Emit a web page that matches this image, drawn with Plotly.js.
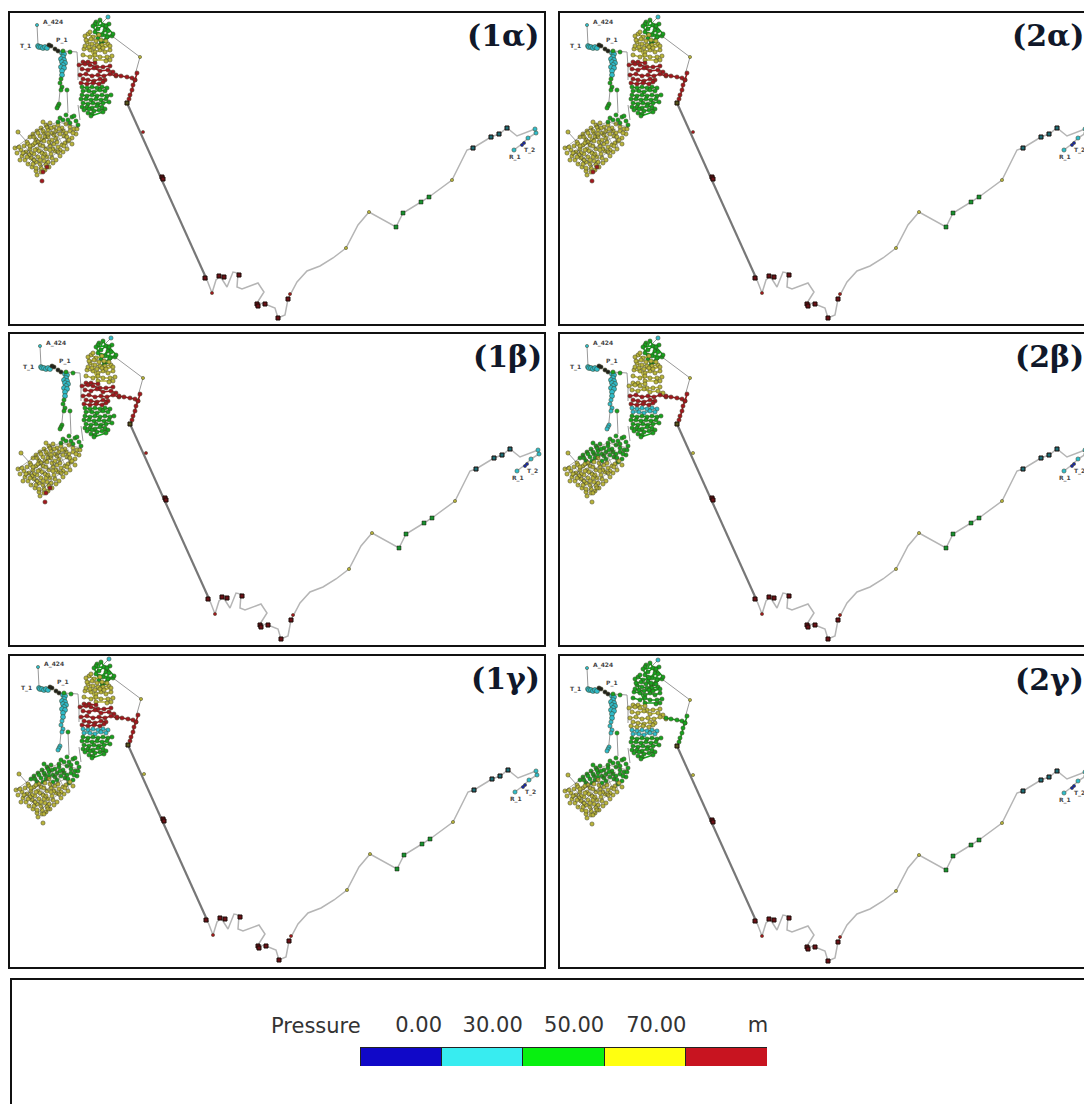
<!DOCTYPE html>
<html>
<head>
<meta charset="utf-8">
<script src="https://cdn.plot.ly/plotly-3.0.1.min.js"></script>
<style>
html,body{margin:0;padding:0;background:#fff;overflow:hidden;width:1084px;height:1104px}
#chart{width:1110px;height:1130px}
.scatterlayer{filter:blur(.75px)}
</style>
</head>
<body>
<div id="chart"></div>
<script>
// Panel names, in page order
const panelNames = ['(1α)','(2α)','(1β)','(2β)','(1γ)','(2γ)'];

const mainPipeX = [127,207];
const mainPipeY = [103,280];
const routePipeX = [207,212,216,220,227,233,238,237,242,258,264,257,265,275,278,285,288,297,307,320,333,346,358,369,396,403,421,429,452,458,467,473,491,499,507,517,535,536,528,523,514];
const routePipeY = [280,293,280,276,287,272,273,287,289,283,292,303,304,308,318,315,299,282,271,266,258,248,225,212,227,213,202,197,180,168,150,148,137,134,128,136,129,133,138,143,150];
const feederPipeX = [37,38,null,63,77,78,78,null,62,58,null,67,68,null,78,80,null,112,140,135,null,103,108,null,18,27,null,78,72];
const feederPipeY = [25,45,null,51,52,67,80,null,72,110,null,90,113,null,105,120,null,36,57,75,null,22,17,null,132,142,null,127,134];
const swMeshX = [15,27,36,47,58,70,78,null,22,34,45,56,66,null,28,40,52,64,null,37,48,60,null,25,33,43,null,36,47,null,33,39,48,null,41,50,58,null,46,57,null,54,62,null,62,68,null,24,36,null,44,52];
const swMeshY = [148,139,131,126,122,125,127,null,156,146,138,133,129,null,164,152,143,137,null,171,160,150,null,146,157,166,null,137,149,null,134,146,158,null,128,143,155,null,123,139,null,127,144,null,129,147,null,150,165,null,172,160];

// Zones of junctions (network coordinates, null separates rows)
const sourceX = [38,39,41,43,45,47];
const sourceY = [46,47,47,48,47,48];
const reservoirX = [37];
const reservoirY = [25];
const valveX = [49,51,55,58];
const valveY = [45,46,49,51];
const stemX = [62,64,63,61,64,62,65,63,61,64,62,62];
const stemY = [53,54,57,59,60,62,63,65,67,68,71,75];
const stemLowX = [61,60,62,61,59,58,57];
const stemLowY = [79,83,87,90,104,106,108];
const branchX = [67,63,70];
const branchY = [90,51,52];
const topX = [96,95,98,103,105,102,107,112,95,100,108,104,98,109,93,101,113,106];
const topY = [22,24,29,25,30,35,37,36,32,20,31,41,38,24,26,44,34,26];
const topCapX = [108];
const topCapY = [17];
const upperX = [88,93,99,null,87,92,97,102,108,null,84,90,95,100,105,110,null,83,90,95,100,107,112,null,86,91,96,101,106,null,85,89,94,99,110,103,null,90,85,95,110,106];
const upperY = [34,37,35,null,42,44,45,45,44,null,49,50,52,50,52,50,null,55,57,55,57,57,56,null,40,39,41,40,41,null,46,47,48,47,46,48,null,32,36,60,60,61];
const bandOneX = [83,88,95,null,79,85,90,97,103,110,null,82,88,94,100,108,113];
const bandOneY = [62,62,63,null,65,64,65,67,67,66,null,69,70,68,71,70,72];
const bandTwoX = [80,86,92,98,104,110,116,null,83,88,94,100,105,null,81,87,93,99,103];
const bandTwoY = [75,74,76,75,76,74,76,null,79,80,81,79,80,null,83,84,83,84,82];
const eastX = [116,121,127,132,135,137,null,135,133,132,130,129];
const eastY = [75,76,77,78,80,73,null,80,85,90,95,99];
const lowOneX = [82,87,92,97,102,107,null,83,89,94,100,105];
const lowOneY = [87,88,87,88,87,88,null,91,91,92,90,91];
const lowTwoX = [82,87,92,97,102,107,111,null,81,86,91,96,101,106,null,83,88,93,98,103,109,null,82,87,92,97,102,null,84,89,94,99,105,null,88,92,91,103];
const lowTwoY = [95,96,95,96,95,96,95,null,99,99,100,99,100,99,null,103,104,103,104,103,102,null,107,107,108,106,107,null,110,109,111,110,109,null,113,114,116,112];
const swTopX = [60,63,66,72,68,74,70,78,58,76];
const swTopY = [118,120,115,117,120,116,123,125,122,121];
const swUpperX = [43,46,50,54,58,62,66,70,74,76,41,37,33,30,44,48,52,56,60,66,72,68,64,40,36,56,52,47,63,70,45,38,34,43,59,51,73,54,48,67,77,42];
const swUpperY = [122,125,123,127,125,128,124,127,129,134,128,131,134,137,133,130,133,131,134,133,138,141,136,136,140,138,140,127,131,131,137,133,137,131,129,128,133,135,134,137,129,140];
const swLowerX = [18,15,17,21,24,27,67,63,60,56,53,49,45,41,37,36,32,28,25,22,26,30,28,33,48,44,40,37,34,38,42,46,50,54,58,55,51,47,44,40,36,31,48,52,62,72,19,23,31,35,39,43,29,34,41,46,53,60,65,57,49,38,30,35,43,50,69,64,58,27,20,33,40,45,36];
const swLowerY = [132,148,153,150,146,142,149,152,156,160,163,167,170,172,175,171,167,164,160,156,152,149,144,145,137,141,145,149,154,157,153,149,146,144,147,151,154,157,161,164,162,158,162,158,145,144,147,153,153,143,151,146,155,160,168,165,149,150,143,142,142,142,146,150,157,150,140,146,152,157,160,164,160,154,168];
const swFootX = [42,43,47];
const swFootY = [181,172,167];
const pumpStopX = [143];
const pumpStopY = [132];
const smallRedX = [212,290];
const smallRedY = [293,294];
const headX = [127];
const headY = [103];
const redStopX = [162,163,205,219,224,239,257,258,265,278,288];
const redStopY = [177,179,278,276,277,275,304,306,304,318,299];
const oliveStopX = [140,369,346,452];
const oliveStopY = [57,212,248,180];
const greenStopX = [396,403,421,429];
const greenStopY = [227,213,202,197];
const tealStopX = [473,491,499,507];
const tealStopY = [148,137,134,128];
const endCyanX = [536,535,528,514];
const endCyanY = [133,129,138,150];
const endBlueX = [524,522];
const endBlueY = [143,145];

// Pressure class of each zone for panels 1α,2α,1β,2β,1γ,2γ
const zones = [
  ['source',sourceX,sourceY,['C','C','C','C','C','C']],
  ['reservoir',reservoirX,reservoirY,['C','C','C','C','C','C']],
  ['valve',valveX,valveY,['K','K','K','K','K','K']],
  ['stem',stemX,stemY,['C','C','C','C','C','C']],
  ['stemLow',stemLowX,stemLowY,['G','G','G','C','C','C']],
  ['branch',branchX,branchY,['G','G','G','G','G','G']],
  ['top',topX,topY,['G','G','G','G','G','G']],
  ['topCap',topCapX,topCapY,['C','C','C','C','C','C']],
  ['upper',upperX,upperY,['O','O','O','O','O','G']],
  ['bandOne',bandOneX,bandOneY,['R','R','R','O','R','O']],
  ['bandTwo',bandTwoX,bandTwoY,['R','R','R','R','R','O']],
  ['east',eastX,eastY,['R','R','R','R','R','G']],
  ['lowOne',lowOneX,lowOneY,['G','G','G','C','C','C']],
  ['lowTwo',lowTwoX,lowTwoY,['G','G','G','G','G','G']],
  ['swUpper',swUpperX,swUpperY,['O','O','O','G','G','G']],
  ['swLower',swLowerX,swLowerY,['O','O','O','O','O','O']],
  ['swTop',swTopX,swTopY,['G','G','G','G','G','G']],
  ['swFoot',swFootX,swFootY,['R','R','R','O','O','O']],
  ['pumpStop',pumpStopX,pumpStopY,['R','R','R','O','O','O']],
  ['smallRed',smallRedX,smallRedY,['R','R','R','R','R','R']],
  ['head',headX,headY,['D','D','D','D','D','D']],
  ['oliveStop',oliveStopX,oliveStopY,['O','O','O','O','O','O']],
  ['redStop',redStopX,redStopY,['M','M','M','M','M','M']],
  ['greenStop',greenStopX,greenStopY,['H','H','H','H','H','H']],
  ['tealStop',tealStopX,tealStopY,['T','T','T','T','T','T']],
  ['endCyan',endCyanX,endCyanY,['C','C','C','C','C','C']],
  ['endBlue',endBlueX,endBlueY,['B','B','B','B','B','B']]
];
const rowZones = ['top','upper','bandOne','bandTwo','east','lowOne','lowTwo'];
const stopZones = ['redStop','greenStop','tealStop','head'];
const tinyZones = ['oliveStop','smallRed','pumpStop','reservoir','endBlue'];
const classColors = {C:'#2fbccb',K:'#20201a',G:'#16a31e',O:'#b9b43a',R:'#a3161e',T:'#1d6f78',B:'#1a2aa8',M:'#6b1016',H:'#1a9030',D:'#55551c'};

const nodeLabels = ['A_424','T_1','P_1','T_2','R_1'];
const nodeLabelX = [53,25,62,529,515];
const nodeLabelY = [22,46,40,150,157];

// Legend
const legendNames = ['0.00','30.00','50.00','70.00'];
const legendTickAt = [0.72,1.63,2.63,3.64];
const legendColors = ['#1008c8','#38ecf0','#08f010','#ffff10','#c81420'];

// Layout geometry
const W = 1110, H = 1130;
const panelBoxes = [[9,545,12,325],[559,1096,12,325],[9,545,333,646],[559,1096,333,646],[9,545,655,968],[559,1096,655,968]];
const netShift = [[0,0],[0,0],[3,0],[0,0],[1,-1],[0,0]];
const titleX = [541,536,541,536,541,536];

const data = [];
const layout = {
  width:W,height:H,margin:{l:0,r:0,t:0,b:0},paper_bgcolor:'#fff',plot_bgcolor:'#fff',
  showlegend:false,barmode:'stack',bargap:0,annotations:[],shapes:[],hovermode:false
};

panelBoxes.forEach((b,i)=>{
  const n = i+1, xa = 'x'+n, ya = 'y'+n;
  const sx = netShift[i][0], sy = netShift[i][1];
  const common = {showgrid:false,zeroline:false,showticklabels:false,ticks:'',showline:true,mirror:true,linecolor:'#111',linewidth:2};
  layout['xaxis'+n] = Object.assign({domain:[(b[0]+1)/W,(b[1]-1)/W],range:[10-sx,10-sx+(b[1]-b[0]-2)],anchor:ya},common);
  layout['yaxis'+n] = Object.assign({domain:[1-(b[3]-1)/H,1-(b[2]+1)/H],range:[324-sy,13-sy],anchor:xa},common);

  data.push({x:mainPipeX,y:mainPipeY,xaxis:xa,yaxis:ya,mode:'lines',line:{color:'#777',width:2.2}});
  data.push({x:routePipeX,y:routePipeY,xaxis:xa,yaxis:ya,mode:'lines',line:{color:'#b5b5b5',width:1.5}});
  data.push({x:feederPipeX,y:feederPipeY,xaxis:xa,yaxis:ya,mode:'lines',line:{color:'#999',width:1}});

  zones.forEach(z=>{
    const col = classColors[z[3][i]];
    const stop = stopZones.includes(z[0]);
    const tiny = tinyZones.includes(z[0]);
    const row = rowZones.includes(z[0]);
    const blob = z[0]==='source'||z[0]==='stem';
    data.push({x:z[1],y:z[2],xaxis:xa,yaxis:ya,mode:row?'lines+markers':'markers',
      line:{color:col,width:1.6},
      marker:{symbol:stop?'square':'circle',size:stop?4:tiny?3.2:blob?5:4.2,color:col,
        line:{color:stop?'#1a0c08':'#3a3a20',width:stop?(z[0]==='greenStop'?.5:1):.5}}});
  });
  // thin dark mesh over the south-west district
  data.push({x:swMeshX,y:swMeshY,xaxis:xa,yaxis:ya,mode:'lines',line:{color:'rgba(70,70,40,.55)',width:.8}});

  layout.annotations.push({xref:xa,yref:ya,x:titleX[i],y:36,text:'<b>'+panelNames[i]+'</b>',showarrow:false,xanchor:'right',yanchor:'middle',
    font:{family:'DejaVu Serif',size:30,color:'#10182a'}});
  nodeLabels.forEach((t,k)=>{
    layout.annotations.push({xref:xa,yref:ya,x:nodeLabelX[k],y:nodeLabelY[k],text:'<b>'+t+'</b>',showarrow:false,
      font:{family:'DejaVu Sans',size:6,color:'#444'}});
  });
});

// Legend frame and colour bar
layout.shapes.push({type:'rect',xref:'paper',yref:'paper',x0:11/W,x1:1180/W,y0:-0.05,y1:1-979/H,line:{color:'#111',width:2},fillcolor:'rgba(0,0,0,0)'});
layout.xaxis7 = {domain:[360/W,767/W],range:[0,5],anchor:'y7',side:'top',showgrid:false,zeroline:false,
  tickvals:legendTickAt.concat([4.89]),ticktext:legendNames.concat(['m']),ticks:'outside',ticklen:6,tickcolor:'rgba(0,0,0,0)',
  tickfont:{family:'DejaVu Sans',size:21,color:'#333'},showline:false,tickangle:0};
layout.yaxis7 = {domain:[1-1066/H,1-1047/H],range:[-0.5,0.5],anchor:'x7',showgrid:false,zeroline:false,showticklabels:false,ticks:''};
legendColors.forEach(c=>{
  data.push({type:'bar',orientation:'h',x:[1],y:[0],width:[1],xaxis:'x7',yaxis:'y7',marker:{color:c,line:{color:'#222',width:1}}});
});
layout.annotations.push({xref:'paper',yref:'paper',x:316/W,y:1-1026/H,text:'Pressure',showarrow:false,xanchor:'center',yanchor:'middle',
  font:{family:'DejaVu Sans',size:21,color:'#333'}});

Plotly.newPlot('chart',data,layout,{staticPlot:true,displayModeBar:false});
</script>
</body>
</html>
